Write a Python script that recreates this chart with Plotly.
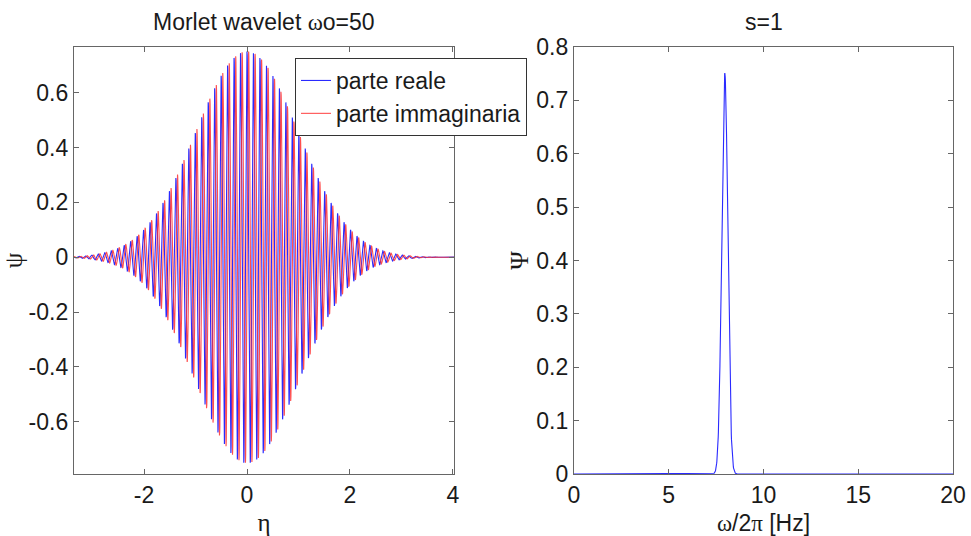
import numpy as np
import plotly.graph_objects as go
from plotly.subplots import make_subplots

# Morlet wavelet parameters
OMEGA0 = 50          # central angular frequency
SCALE = 1            # wavelet scale s
ETA_RANGE = [-3.36, 4.02]
FREQ_RANGE = [0, 20]

# Axis ticks
left_xticks = [-2, 0, 2, 4]
left_yticks = [-0.6, -0.4, -0.2, 0, 0.2, 0.4, 0.6]
right_xticks = [0, 5, 10, 15, 20]
right_yticks = [0, 0.1, 0.2, 0.3, 0.4, 0.5, 0.6, 0.7, 0.8]

# Time-domain wavelet: psi(eta) = pi^-1/4 * exp(i*w0*eta) * exp(-eta^2/2)
eta = np.linspace(ETA_RANGE[0], ETA_RANGE[1], 3000)
norm = np.pi ** -0.25
psi = norm * np.exp(1j * OMEGA0 * eta) * np.exp(-eta ** 2 / 2)

# Frequency-domain wavelet at scale s
freq = np.linspace(FREQ_RANGE[0], FREQ_RANGE[1], 2001)
omega = 2 * np.pi * freq
Psi = norm * np.exp(-(SCALE * omega - OMEGA0) ** 2 / 2)

W, H = 971, 536
ml, mr, mt, mb = 74, 18, 47, 62
pw = W - ml - mr
dom_left = [0, (454 - ml) / pw]
dom_right = [(574 - ml) / pw, 1]

FONT = "Liberation Sans, Arial, sans-serif"
SERIF = "Liberation Serif, Times New Roman, serif"
AX = "#666666"
TXT = "#1a1a1a"


def labels(vals):
    # plain hyphen-minus for negative numbers
    return [("%g" % v) for v in vals]


fig = make_subplots(rows=1, cols=2)

fig.add_trace(go.Scatter(x=eta, y=psi.real, mode="lines", name="parte reale",
                         line=dict(color="#2a2aff", width=1.1)), row=1, col=1)
fig.add_trace(go.Scatter(x=eta, y=psi.imag, mode="lines", name="parte immaginaria",
                         line=dict(color="#ff3030", width=1.1), opacity=0.85), row=1, col=1)
fig.add_trace(go.Scatter(x=freq, y=Psi, mode="lines", showlegend=False,
                         line=dict(color="#2a2aff", width=1.1)), row=1, col=2)

axis_style = dict(showline=True, linecolor=AX, linewidth=1.3, mirror="allticks",
                  ticks="inside", ticklen=5, tickcolor=AX, showgrid=False,
                  zeroline=False, automargin=False,
                  tickfont=dict(family=FONT, size=23, color=TXT))

fig.update_xaxes(axis_style)
fig.update_yaxes(axis_style)

fig.update_xaxes(domain=dom_left, range=ETA_RANGE, tickvals=left_xticks,
                 ticktext=labels(left_xticks),
                 title=dict(text="η", font=dict(family=SERIF, size=25, color=TXT),
                            standoff=10), row=1, col=1)
fig.update_yaxes(range=[-0.791, 0.767], tickvals=left_yticks,
                 ticktext=labels(left_yticks),
                 title=dict(text="ψ", font=dict(family=SERIF, size=25, color=TXT),
                            standoff=8), row=1, col=1)
fig.update_xaxes(domain=dom_right, range=FREQ_RANGE, tickvals=right_xticks,
                 ticktext=labels(right_xticks),
                 title=dict(text="<span style='font-family:Liberation Serif'>ω</span>/2<span style='font-family:Liberation Serif'>π</span> [Hz]",
                            font=dict(family=FONT, size=23, color=TXT), standoff=10),
                 row=1, col=2)
fig.update_yaxes(range=[0, 0.8], tickvals=right_yticks,
                 ticktext=labels(right_yticks),
                 title=dict(text="Ψ", font=dict(family=SERIF, size=25, color=TXT),
                            standoff=0), row=1, col=2)

# Subplot titles
fig.add_annotation(x=(dom_left[0] + dom_left[1]) / 2, y=1, xref="paper", yref="paper",
                   xanchor="center", yanchor="bottom", yshift=10, showarrow=False,
                   text="Morlet wavelet <span style='font-family:Liberation Serif'>ω</span>o=50",
                   font=dict(family=FONT, size=23, color=TXT))
fig.add_annotation(x=(dom_right[0] + dom_right[1]) / 2, y=1, xref="paper", yref="paper",
                   xanchor="center", yanchor="bottom", yshift=10, showarrow=False,
                   text="s=1", font=dict(family=FONT, size=23, color=TXT))

fig.update_layout(
    width=W, height=H,
    margin=dict(l=ml, r=mr, t=mt, b=mb, autoexpand=False),
    paper_bgcolor="white", plot_bgcolor="white",
    showlegend=True,
    legend=dict(x=(295 - ml) / pw, y=(H - mb - 58) / (H - mt - mb),
                xanchor="left", yanchor="top",
                bgcolor="white", bordercolor="#333", borderwidth=1,
                font=dict(family=FONT, size=23, color=TXT),
                tracegroupgap=0, itemwidth=30),
)

fig.write_html("out.html")
